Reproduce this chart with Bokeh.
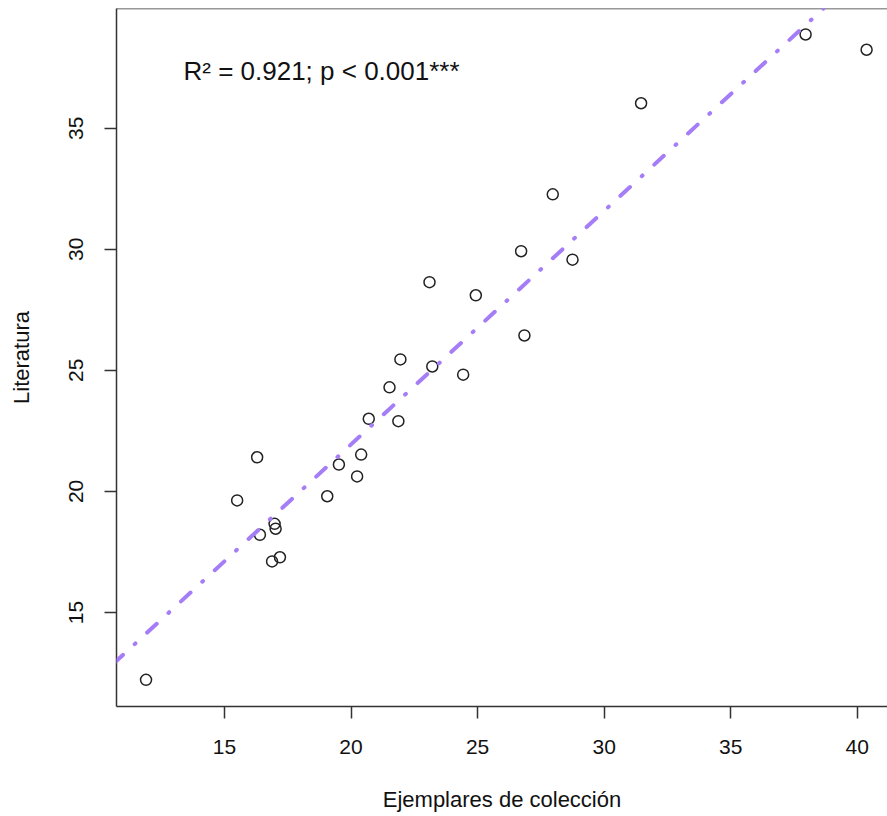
from bokeh.plotting import figure
from bokeh.models import FixedTicker, Span, Slope, Label, ColumnDataSource
from bokeh.embed import file_html
from bokeh.resources import INLINE

# ---- data ----
ejemplares = [11.90, 16.29, 15.50, 19.52, 19.06, 16.98, 17.02, 16.40, 17.19, 16.88,
              20.24, 20.40, 20.70, 21.87, 21.52, 21.95, 23.21, 24.43, 26.85, 27.97,
              26.72, 28.75, 23.10, 24.93, 31.46, 37.96, 40.37]
literatura = [12.22, 21.41, 19.63, 21.11, 19.80, 18.66, 18.46, 18.21, 17.28, 17.11,
              20.62, 21.52, 23.00, 22.90, 24.30, 25.45, 25.16, 24.82, 26.44, 32.27,
              29.92, 29.57, 28.64, 28.10, 36.03, 38.87, 38.24]
fit_intercept = 2.65
fit_slope = 0.9645
x_ticks = [15, 20, 25, 30, 35, 40]
y_ticks = [15, 20, 25, 30, 35]
annotation_text = "R\u00b2 = 0.921; p < 0.001***"
x_label = "Ejemplares de colección"
y_label = "Literatura"

# ---- layout ----
x_start, x_end = 10.733, 41.196
y_start, y_end = 11.118, 39.943
ann_x, ann_y = 13.38, 37.35

FONT = "Liberation Sans"
AXIS_COLOR = "#333333"
TEXT_COLOR = "#111111"
LINE_COLOR = "#A57DF7"

p = figure(width=887, height=816, x_range=(x_start, x_end), y_range=(y_start, y_end),
           output_backend="svg", toolbar_location=None,
           min_border_left=116, min_border_right=0, min_border_top=8, min_border_bottom=110)
p.outline_line_color = None
p.grid.grid_line_color = None
p.background_fill_color = "white"
p.border_fill_color = "white"

for ax in (p.xaxis[0], p.yaxis[0]):
    ax.axis_line_color = AXIS_COLOR
    ax.axis_line_width = 1.5
    ax.major_tick_line_color = AXIS_COLOR
    ax.major_tick_line_width = 1.5
    ax.major_tick_in = 0
    ax.major_tick_out = 12
    ax.minor_tick_line_color = None
    ax.major_label_text_font = FONT
    ax.major_label_text_font_size = "21px"
    ax.major_label_text_color = TEXT_COLOR
    ax.axis_label_text_font = FONT
    ax.axis_label_text_font_size = "22px"
    ax.axis_label_text_font_style = "normal"
    ax.axis_label_text_color = TEXT_COLOR

p.xaxis.ticker = FixedTicker(ticks=x_ticks)
p.yaxis.ticker = FixedTicker(ticks=y_ticks)
p.xaxis.axis_label = x_label
p.yaxis.axis_label = y_label
p.xaxis.major_label_standoff = 21
p.xaxis.axis_label_standoff = 30
p.yaxis.major_label_orientation = "vertical"
p.yaxis.major_label_standoff = 21
p.yaxis.axis_label_standoff = 33

# top frame line
p.add_layout(Span(location=y_end, dimension="width", line_color=AXIS_COLOR, line_width=1.5))

# regression line
p.add_layout(Slope(gradient=fit_slope, y_intercept=fit_intercept, line_color=LINE_COLOR,
                   line_width=4, line_dash="1 16 13 16", line_cap="round"))

src = ColumnDataSource(data=dict(x=ejemplares, y=literatura))
p.scatter("x", "y", source=src, marker="circle", size=11, fill_color=None,
          line_color="#222222", line_width=1.5)

p.add_layout(Label(x=ann_x, y=ann_y, text=annotation_text, text_font=FONT,
                   text_font_size="26px", text_color=TEXT_COLOR, text_baseline="alphabetic"))

open("out.html", "w").write(file_html(p, INLINE))
